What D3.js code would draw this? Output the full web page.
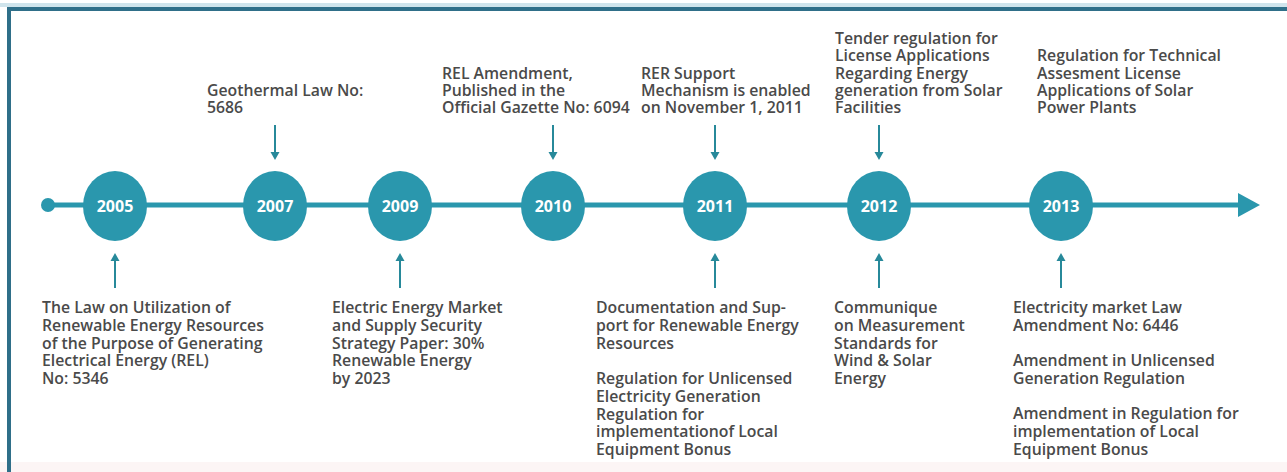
<!DOCTYPE html>
<html>
<head>
<meta charset="utf-8">
<script src="https://cdn.jsdelivr.net/npm/d3@7"></script>
<style>
  body { margin: 0; background: #fff; }
  svg { display: block; }
  .note { font-family: "Open Sans", sans-serif; font-weight: 600; font-size: 15.8px; fill: #4a4a4a; }
  .year { font-family: "Open Sans", sans-serif; font-weight: 700; font-size: 16px; fill: #fff; }
</style>
</head>
<body>
<svg id="canvas"></svg>
<script>
// milestones on the line
let years = ['2005', '2007', '2009', '2010', '2011', '2012', '2013']

// notes above the line (one entry per year, lines of text)
let aboveYears = ['2007', '2010', '2011', '2012', '2013']
let aboveArrow = [true, true, true, true, false]
let aboveText = [
  ['Geothermal Law No:', '5686'],
  ['REL Amendment,', 'Published in the', 'Official Gazette No: 6094'],
  ['RER Support', 'Mechanism is enabled', 'on November 1, 2011'],
  ['Tender regulation for', 'License Applications', 'Regarding Energy', 'generation from Solar', 'Facilities'],
  ['Regulation for Technical', 'Assesment License', 'Applications of Solar', 'Power Plants']
]

// notes below the line (paragraphs of lines)
let belowYears = ['2005', '2009', '2011', '2012', '2013']
let belowText = [
  [['The Law on Utilization of', 'Renewable Energy Resources', 'of the Purpose of Generating', 'Electrical Energy (REL)', 'No: 5346']],
  [['Electric Energy Market', 'and Supply Security', 'Strategy Paper: 30%', 'Renewable Energy', 'by 2023']],
  [['Documentation and Sup-', 'port for Renewable Energy', 'Resources'],
   ['Regulation for Unlicensed', 'Electricity Generation', 'Regulation for', 'implementationof Local', 'Equipment Bonus']],
  [['Communique', 'on Measurement', 'Standards for', 'Wind & Solar', 'Energy']],
  [['Electricity market Law', 'Amendment No: 6446'],
   ['Amendment in Unlicensed', 'Generation Regulation'],
   ['Amendment in Regulation for', 'implementation of Local', 'Equipment Bonus']]
]

let width = 1287, height = 472
let lineY = 205
let teal = '#2a97ad', arrowCol = '#27899a', border = '#2f6f89'

// slot positions of the milestones (the infographic is not evenly spaced)
let x = d3.scaleOrdinal()
  .domain(years)
  .range([115, 275, 400, 553, 715, 879, 1061])

// text offsets from the milestone centre
let aboveDx = { '2007': -68, '2010': -111, '2011': -74, '2012': -44, '2013': -24 }
let belowDx = { '2005': -73, '2009': -68, '2011': -119, '2012': -45, '2013': -48 }

let svg = d3.select('#canvas').attr('width', width).attr('height', height)

// frame
svg.append('rect').attr('x', 0).attr('y', 462).attr('width', width).attr('height', 10).attr('fill', '#fcf5f5')
svg.append('rect').attr('x', 0).attr('y', 3).attr('width', width).attr('height', 4).attr('fill', '#cfe4ec')
svg.append('path')
  .attr('d', `M9,${height} V9 H${width}`)
  .attr('fill', 'none').attr('stroke', border).attr('stroke-width', 4)

// main line
svg.append('line')
  .attr('x1', 48).attr('x2', 1244).attr('y1', lineY).attr('y2', lineY)
  .attr('stroke', teal).attr('stroke-width', 5)
svg.append('circle').attr('cx', 48).attr('cy', lineY).attr('r', 7).attr('fill', teal)
svg.append('path')
  .attr('d', `M1238,${lineY - 12} L1260,${lineY} L1238,${lineY + 12} Z`)
  .attr('fill', teal)

// milestones
let nodes = svg.selectAll('g.node')
  .data(years)
  .enter()
  .append('g')
  .attr('class', 'node')
  .attr('transform', d => 'translate(' + x(d) + ',' + (lineY + 1) + ')')
nodes.append('ellipse').attr('rx', 32).attr('ry', 35).attr('fill', teal)
nodes.append('text')
  .attr('class', 'year')
  .attr('text-anchor', 'middle')
  .attr('dy', '0.36em')
  .text(d => d)

// arrows
let drawArrow = (cx, yFrom, yTip) => {
  let dir = yTip > yFrom ? 1 : -1
  svg.append('line')
    .attr('x1', cx).attr('x2', cx).attr('y1', yFrom).attr('y2', yTip - dir * 7)
    .attr('stroke', arrowCol).attr('stroke-width', 2)
  svg.append('path')
    .attr('d', `M${cx - 4.5},${yTip - dir * 8} L${cx},${yTip} L${cx + 4.5},${yTip - dir * 8} Z`)
    .attr('fill', arrowCol)
}

aboveYears.forEach((y, i) => {
  if (aboveArrow[i]) drawArrow(x(y), 125, 160)
})
belowYears.forEach((y) => {
  drawArrow(x(y), 288, 253)
})

// notes above: bottom aligned
let topLH = 17.2, lastBase = 113
aboveYears.forEach((y, i) => {
  let lines = aboveText[i]
  let t = svg.append('text')
    .attr('class', 'note')
    .attr('x', x(y) + aboveDx[y])
    .attr('y', lastBase - (lines.length - 1) * topLH)
  lines.forEach((l, j) => {
    t.append('tspan')
      .attr('x', x(y) + aboveDx[y])
      .attr('dy', j === 0 ? 0 : topLH)
      .text(l)
  })
})

// notes below: top aligned, paragraphs spaced
let botLH = 17.8, firstBase = 313, paraGap = 17.5
belowYears.forEach((y, i) => {
  let yy = firstBase
  belowText[i].forEach((para) => {
    para.forEach((l) => {
      svg.append('text')
        .attr('class', 'note')
        .attr('x', x(y) + belowDx[y])
        .attr('y', yy)
        .text(l)
      yy += botLH
    })
    yy += paraGap
  })
})
</script>
</body>
</html>
